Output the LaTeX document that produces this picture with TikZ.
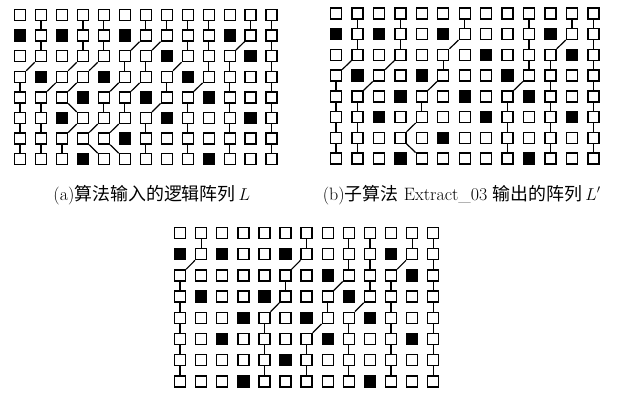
\documentclass[tikz,border=0pt]{standalone}
\usepackage{fontspec}
\newfontfamily\cjk{Noto Sans CJK SC}
\usetikzlibrary{positioning}

\begin{document}
\begin{tikzpicture}[
    x=1bp, y=-1bp,
    node distance=1cm,
    cell/.style={rectangle, draw, line width=1.4bp, minimum size=11bp, inner sep=0pt, fill=white},
    link/.style={line width=1.2bp},
    caption/.style={font=\fontsize{18}{20}\selectfont, inner sep=0pt, anchor=north}
]
\useasboundingbox (0,0) rectangle (623,393);

% Processor arrays: name/left/top/column step/row step
\foreach \g/\xo/\yo/\dx/\dy in {a/20/15/20.97/20.6, b/336/13.3/21.45/20.75, c/180/233/21.1/21.2}
  \foreach \r in {1,...,8}
    \foreach \c in {0,...,12}
      \node[cell] (\g-\r-\c) at ({\xo+\c*\dx},{\yo+(\r-1)*\dy}) {};

% Faulty PEs
\foreach \g in {a,b,c}
  \foreach \r/\c in {2/0,2/2,2/5,2/10,3/7,3/11,4/1,4/4,4/8,5/3,5/6,5/9,6/2,6/7,6/11,7/5,8/3,8/9}
    \fill (\g-\r-\c.south west) rectangle (\g-\r-\c.north east);

% Logical array L
\foreach \chain in {{1,1,1,0,0,0,0,0},{3,3,3,2,1,1,1,1},{4,4,4,3,2,3,2,2},
                    {6,6,5,5,4,4,3,4},{7,7,6,6,5,5,4,5},{8,8,8,7,7,6,6,6},
                    {9,9,9,9,8,8,8,8},{11,11,10,10,10,10,10,10},{12,12,12,12,12,12,12,12}}
  \foreach \c [count=\r, remember=\c as \lastc] in \chain {
    \ifnum\r>1
      \pgfmathtruncatemacro\q{\r-1}
      \draw[link] (a-\q-\lastc) -- (a-\r-\c);
    \fi
  }

% Output of Extract_03
\foreach \chain in {{1,1,1,0,0,0,0,0},{3,3,3,2,1,1,1,1},{6,6,5,5,4,4,3,4},
                    {9,9,9,9,8,8,8,8},{11,11,10,10,10,10,10,10},{12,12,12,12,12,12,12,12}}
  \foreach \c [count=\r, remember=\c as \lastc] in \chain {
    \ifnum\r>1
      \pgfmathtruncatemacro\q{\r-1}
      \draw[link] (b-\q-\lastc) -- (b-\r-\c);
    \fi
  }

% Third array
\foreach \chain in {{1,1,0,0,0,0,0,0},{6,6,5,5,4,4,4,4},{8,8,8,7,7,6,6,6},
                    {9,9,9,9,8,8,8,8},{11,11,10,10,10,10,10,10},{12,12,12,12,12,12,12,12}}
  \foreach \c [count=\r, remember=\c as \lastc] in \chain {
    \ifnum\r>1
      \pgfmathtruncatemacro\q{\r-1}
      \draw[link] (c-\q-\lastc) -- (c-\r-\c);
    \fi
  }

% Captions
\node[caption, below=20bp of a-8-6, xshift=6bp] (capa) {(a){\cjk 算法输入的逻辑阵列}\,$L$};
\node[caption, below=20bp of b-8-6, xshift=-3bp] (capb) {(b){\cjk 子算法} Extract\_03 {\cjk 输出的阵列}\,$L'$};

\end{tikzpicture}
\end{document}
